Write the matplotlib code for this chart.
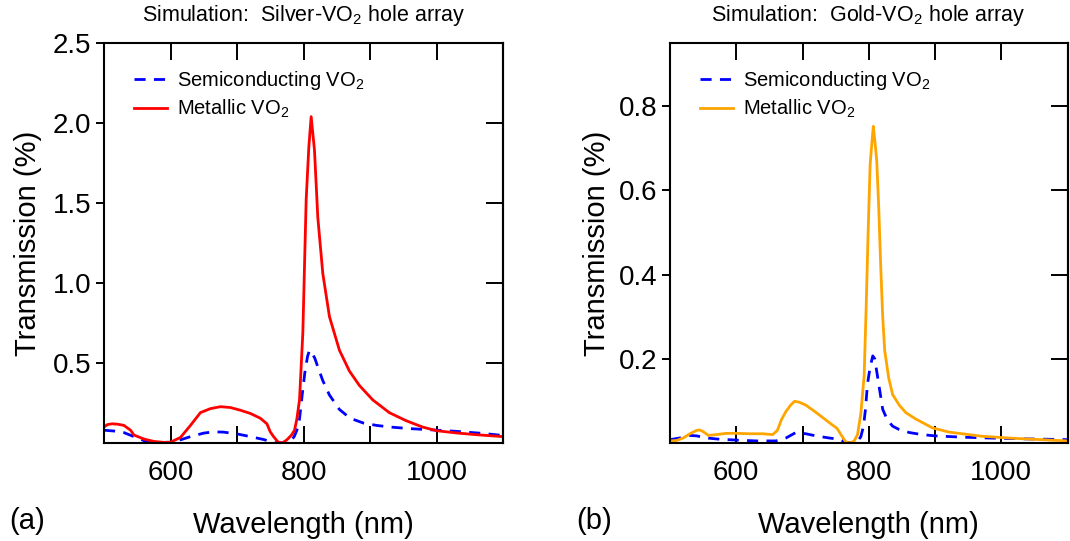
import matplotlib
matplotlib.use("Agg")
import matplotlib.pyplot as plt

plt.rcParams['font.family'] = ['Liberation Sans', 'DejaVu Sans']
plt.rcParams['mathtext.default'] = 'regular'

# -------------------- DATOS: Silver-VO2 --------------------
wl_ag_met = [500, 505, 512, 520, 530, 540, 545, 560, 575, 590, 600, 615, 630, 645, 660,
             675, 690, 705, 720, 735, 745, 750, 755, 762, 768, 775, 782, 786.5, 790,
             794, 799, 804, 808, 811.5, 816.5, 821.5, 829, 839, 854, 869, 884, 904,
             929, 954, 979, 1000, 1030, 1060, 1100]
t_ag_met = [0.10, 0.115, 0.12, 0.118, 0.11, 0.08, 0.05, 0.025, 0.01, 0.004, 0.005, 0.035,
            0.11, 0.19, 0.215, 0.227, 0.222, 0.205, 0.185, 0.155, 0.12, 0.07, 0.04, 0.005,
            0.0, 0.02, 0.05, 0.08, 0.15, 0.27, 0.69, 1.52, 1.85, 2.04, 1.83, 1.41, 1.06,
            0.79, 0.58, 0.45, 0.36, 0.27, 0.19, 0.14, 0.10, 0.077, 0.063, 0.052, 0.04]

wl_ag_semi = [500, 515, 530, 545, 560, 580, 600, 615, 630, 650, 665, 680, 700, 720, 740,
              755, 770, 780, 786, 790, 794, 798, 802, 806, 809, 813, 817, 822, 829, 839,
              854, 870, 890, 910, 930, 960, 990, 1030, 1070, 1100]
t_ag_semi = [0.08, 0.075, 0.065, 0.04, 0.015, 0.003, 0.005, 0.02, 0.04, 0.062, 0.07, 0.068,
             0.057, 0.04, 0.022, 0.003, 0.0, 0.01, 0.04, 0.08, 0.15, 0.30, 0.44, 0.54, 0.58,
             0.56, 0.53, 0.47, 0.39, 0.30, 0.21, 0.155, 0.125, 0.11, 0.10, 0.09, 0.083,
             0.073, 0.06, 0.047]

# -------------------- DATOS: Gold-VO2 --------------------
wl_au_met = [500, 510, 520, 530, 540, 545, 550, 558, 570, 585, 600, 620, 640, 655, 662,
             668, 675, 682, 688, 695, 705, 720, 735, 745, 752, 758, 765, 772, 778, 783,
             788, 793, 796, 799, 802, 804, 806.8, 809, 812, 815, 818, 821, 824, 830, 836,
             846, 856, 871, 896, 921, 971, 1021, 1060, 1100]
t_au_met = [0.005, 0.006, 0.012, 0.022, 0.03, 0.031, 0.027, 0.018, 0.02, 0.023, 0.023,
            0.022, 0.022, 0.02, 0.03, 0.055, 0.075, 0.09, 0.099, 0.097, 0.09, 0.073,
            0.055, 0.043, 0.035, 0.02, 0.003, 0.0, 0.005, 0.02, 0.07, 0.16, 0.32, 0.50,
            0.66, 0.70, 0.752, 0.72, 0.67, 0.56, 0.42, 0.30, 0.22, 0.155, 0.115, 0.09,
            0.072, 0.057, 0.036, 0.026, 0.016, 0.011, 0.008, 0.005]

wl_au_semi = [500, 515, 530, 540, 555, 575, 600, 630, 660, 675, 690, 705, 720, 740, 755,
              765, 775, 783, 788, 792, 795, 798, 802, 806, 809, 813, 817, 821, 828, 836,
              846, 861, 880, 900, 940, 980, 1030, 1070, 1100]
t_au_semi = [0.008, 0.012, 0.018, 0.017, 0.012, 0.009, 0.007, 0.005, 0.005, 0.012, 0.025,
             0.022, 0.017, 0.012, 0.009, 0.002, 0.0, 0.004, 0.015, 0.04, 0.08, 0.14, 0.18,
             0.207, 0.20, 0.16, 0.12, 0.08, 0.055, 0.04, 0.032, 0.025, 0.02, 0.017, 0.014,
             0.012, 0.01, 0.009, 0.008]

x_ticks = [600, 700, 800, 900, 1000]
x_labels = ['600', '', '800', '', '1000']
y_ticks_ag = [0.5, 1.0, 1.5, 2.0, 2.5]
y_ticks_au = [0.2, 0.4, 0.6, 0.8]

# -------------------- FIGURA --------------------
fig = plt.figure(figsize=(10.7, 5.41), dpi=100)
ax1 = fig.add_axes([0.0972, 0.1811, 0.3729, 0.7394])
ax2 = fig.add_axes([0.6262, 0.1811, 0.3715, 0.7394])


def estilo(ax, yticks, ylim, titulo, ylab_x):
    ax.set_xlim(500, 1100)
    ax.set_ylim(*ylim)
    ax.set_xticks(x_ticks)
    ax.set_xticklabels(x_labels)
    ax.set_yticks(yticks)
    ax.tick_params(axis='x', direction='in', top=True, length=12, width=1.4,
                   labelsize=20, pad=12)
    ax.tick_params(axis='y', direction='out', right=False, length=6, width=1.4,
                   labelsize=20, pad=3)
    for s in ax.spines.values():
        s.set_linewidth(1.5)
    # ticks hacia dentro en el lado derecho
    sec = ax.secondary_yaxis('right')
    sec.set_yticks(yticks)
    sec.tick_params(direction='in', length=12, width=1.4, labelright=False)
    sec.spines['right'].set_linewidth(1.5)

    ax.set_xlabel('Wavelength (nm)', fontsize=21, labelpad=18)
    ax.set_ylabel('Transmission (%)', fontsize=21)
    ax.yaxis.set_label_coords(ylab_x, 0.5)
    ax.set_title(titulo, fontsize=15.5, pad=16)
    ax.legend(loc='upper left', bbox_to_anchor=(0.03, 0.98), frameon=False,
              fontsize=14.5, handlelength=1.65, handletextpad=0.5, labelspacing=0.3)


ax1.plot(wl_ag_semi, t_ag_semi, color='#0000ff', lw=2.0, ls=(0, (4, 3)),
         label='Semiconducting VO$_2$')
ax1.plot(wl_ag_met, t_ag_met, color='#ff0000', lw=2.0, label='Metallic VO$_2$')
estilo(ax1, y_ticks_ag, (0, 2.5), 'Simulation:  Silver-VO$_2$ hole array', -0.155)

ax2.plot(wl_au_semi, t_au_semi, color='#0000ff', lw=2.0, ls=(0, (4, 3)),
         label='Semiconducting VO$_2$')
ax2.plot(wl_au_met, t_au_met, color='#ffa500', lw=2.0, label='Metallic VO$_2$')
estilo(ax2, y_ticks_au, (0, 0.95), 'Simulation:  Gold-VO$_2$ hole array', -0.148)

fig.text(0.009, 0.022, '(a)', fontsize=21)
fig.text(0.539, 0.022, '(b)', fontsize=21)

fig.savefig('out.png', dpi=100)
